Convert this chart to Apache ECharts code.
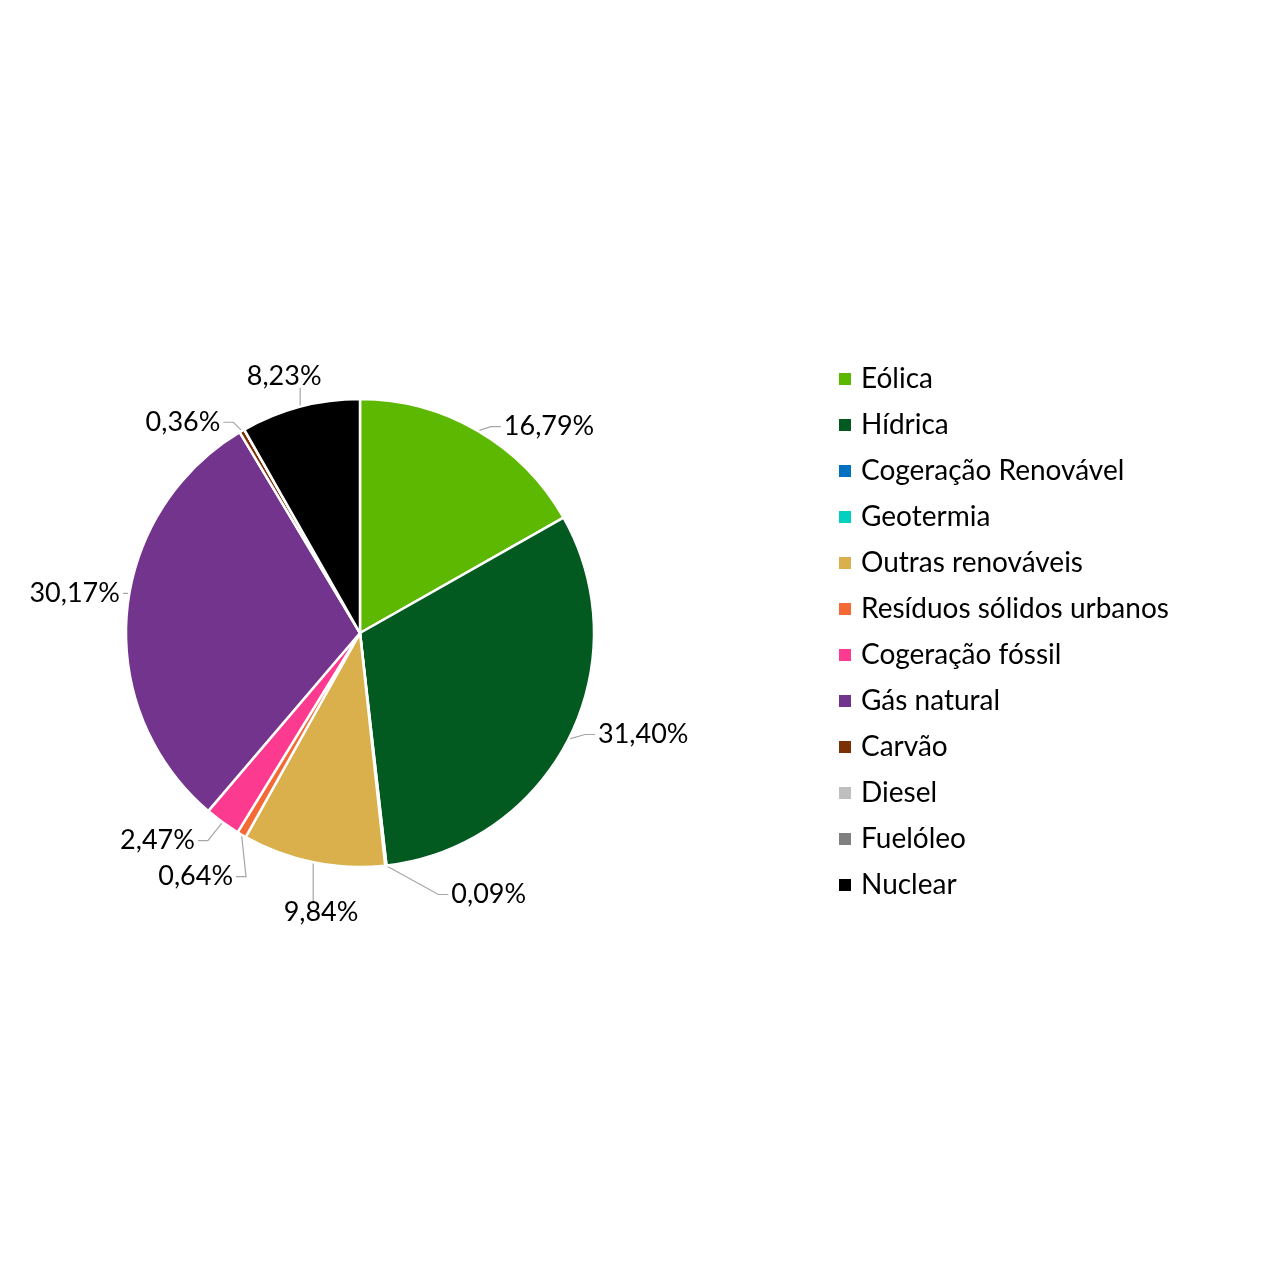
<!DOCTYPE html>
<html>
<head>
<meta charset="utf-8">
<script src="https://cdn.jsdelivr.net/npm/echarts@6/dist/echarts.min.js"></script>
<style>html,body{margin:0;padding:0;background:#fff}#c{width:1280px;height:1280px}</style>
</head>
<body>
<div id="c"></div>
<script>
const categories = ['Eólica','Hídrica','Cogeração Renovável','Geotermia','Outras renováveis','Resíduos sólidos urbanos','Cogeração fóssil','Gás natural','Carvão','Diesel','Fuelóleo','Nuclear'];
const shares = [16.79, 31.40, 0.09, 0, 9.84, 0.64, 2.47, 30.17, 0.36, 0, 0, 8.23];
const colors = ['#5cb800','#025a21','#0070c0','#00d0c0','#d9b04b','#f46a37','#fc3a8f','#72348c','#7a3205','#bfbfbf','#808080','#000000'];

const chart = echarts.init(document.getElementById('c'));
const data = categories.map((n, i) => {
  const d = { name: n, value: shares[i], itemStyle: { color: colors[i] } };
  if (shares[i] === 0) { d.label = { show: false }; d.labelLine = { show: false }; }
  return d;
});
// label nudges (styling only) to mimic the reference label placement; 'v' = vertical leader line
const nudge = {0: [2, 8], 1: [0, -11], 2: [47, 15], 4: [65, 21, 'v'], 5: [9, 14], 6: [9, 7], 7: [19, -19], 8: [5, 0], 11: [42, -17, 'v']};
chart.setOption({
  backgroundColor: '#fff',
  animation: false,
  legend: {
    orient: 'vertical',
    left: 832,
    top: 359,
    icon: 'rect',
    itemWidth: 14,
    itemHeight: 14,
    itemGap: 16,
    textStyle: { fontFamily: 'Lato', fontSize: 28, color: '#000', lineHeight: 30, padding: [0, 0, 0, 4] },
    data: categories
  },
  series: [{
    type: 'pie',
    center: [360, 633],
    radius: 234,
    startAngle: 90,
    clockwise: true,
    itemStyle: { borderColor: '#fff', borderWidth: 2.5 },
    label: {
      show: true,
      position: 'outside',
      fontFamily: 'Lato',
      fontSize: 27,
      color: '#000',
      formatter: p => p.value.toFixed(2).replace('.', ',') + '%'
    },
    labelLine: { show: true, length: 14, length2: 12, lineStyle: { color: '#a6a6a6', width: 1.2 } },
    labelLayout: p => {
      const n = nudge[p.dataIndex];
      if (!n || !p.labelLinePoints) return {};
      const r = p.labelRect;
      const x = r.x + n[0], y = r.y + n[1];
      const p0 = p.labelLinePoints[0];
      let pts;
      if (n[2] === 'v') {
        const ey = p0[1] > y ? y + r.height - 2 : y + 4;
        pts = [p0, [p0[0], ey], [p0[0], ey]];
      } else {
        const right = (x + r.width / 2) > 360;
        const cy = y + r.height / 2;
        const ex = right ? x - 3 : x + r.width + 3;
        pts = [p0, [right ? ex - 10 : ex + 10, cy], [ex, cy]];
      }
      return { x: x, y: y, align: 'left', verticalAlign: 'top', labelLinePoints: pts };
    },
    data: data
  }]
});
</script>
</body>
</html>
